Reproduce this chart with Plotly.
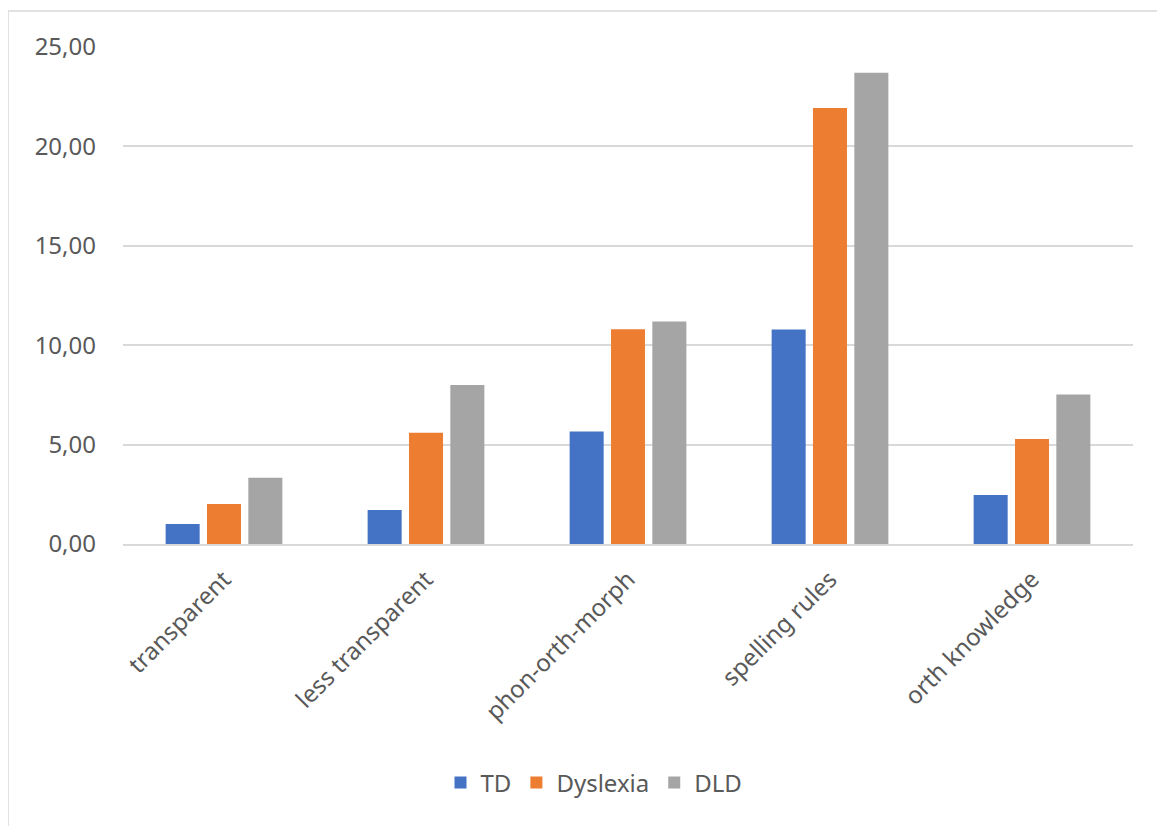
import plotly.graph_objects as go

categories = ["transparent", "less transparent", "phon-orth-morph", "spelling rules", "orth knowledge"]
series_names = ["TD", "Dyslexia", "DLD"]
td_values = [1.00, 1.71, 5.66, 10.79, 2.46]
dyslexia_values = [2.01, 5.59, 10.80, 21.93, 5.28]
dld_values = [3.33, 8.00, 11.19, 23.70, 7.52]
y_ticks = [0, 5, 10, 15, 20, 25]

colors = ["#4472C4", "#ED7D31", "#A5A5A5"]
OFF = 8  # page body margin offset
W, H = 1165 - OFF, 826 - OFF
L, T = 123 - OFF, 47 - OFF
pw, ph = 1010, 497
R = W - L - pw
B = H - T - ph

def px_x(px):
    return (px - OFF - L) / pw

def px_y(py):
    return (T + ph - (py - OFF)) / ph

fig = go.Figure()
for name, vals, c in zip(series_names, [td_values, dyslexia_values, dld_values], colors):
    fig.add_trace(go.Bar(name=name, x=categories, y=vals, marker=dict(color=c, line=dict(width=0))))

font_family = "Noto Sans, Open Sans, sans-serif"
tc = "#595959"
fs = 24
fig.update_layout(
    width=W, height=H,
    margin=dict(l=L, r=R, t=T, b=B, pad=0),
    paper_bgcolor="white", plot_bgcolor="white",
    barmode="group", bargap=0.386, bargroupgap=0.177,
    separators=", ",
    font=dict(family=font_family, size=fs, color=tc),
    showlegend=True,
    legend=dict(orientation="h", x=px_x(594), xanchor="center",
                y=px_y(783), yanchor="middle",
                font=dict(size=fs, color=tc), itemwidth=30, traceorder="normal"),
    xaxis=dict(tickangle=-45, showgrid=False, showline=True, linecolor="#D9D9D9", linewidth=1.5,
               ticks="", ticklabelstandoff=10, tickfont=dict(size=fs, color=tc), fixedrange=True),
    yaxis=dict(range=[0, 25], tickvals=y_ticks, tickformat=".2f", showgrid=True,
               gridcolor="#D9D9D9", gridwidth=1.5, zeroline=False, showline=False,
               ticks="", ticklabelstandoff=26, tickfont=dict(size=fs, color=tc), fixedrange=True),
)

# outer chart border (top and left visible)
fig.add_shape(type="rect", xref="paper", yref="paper",
              x0=px_x(8), x1=px_x(1200),
              y0=px_y(860), y1=px_y(11),
              line=dict(color="#D9D9D9", width=1.5), fillcolor="rgba(0,0,0,0)", layer="below")

fig.write_html("out.html")
